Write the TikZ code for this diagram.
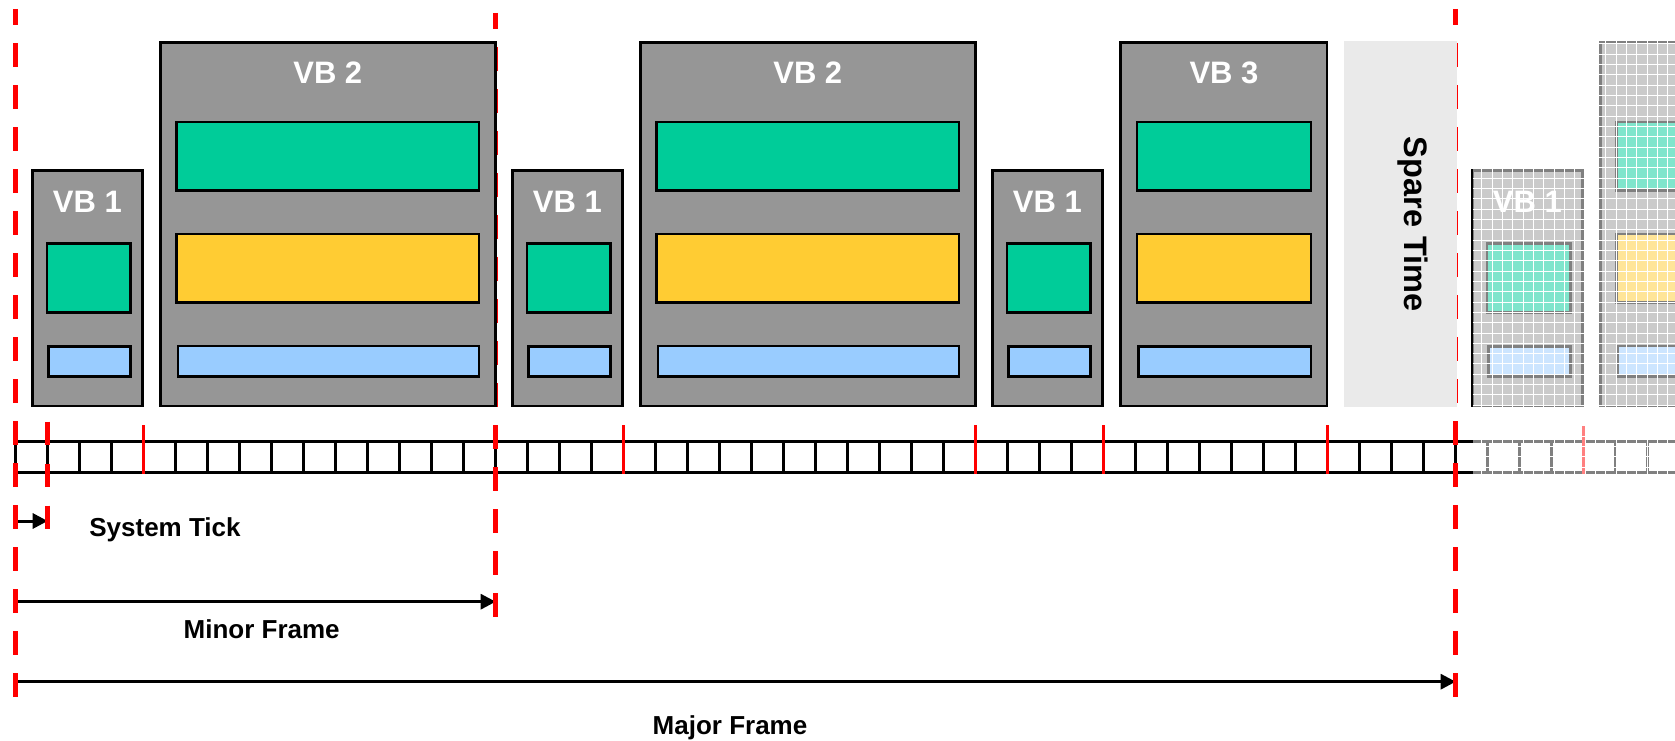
\documentclass[tikz,border=0pt]{standalone}
\usepackage{fontspec}
\setmainfont{Liberation Sans}
\usetikzlibrary{arrows.meta}
\definecolor{vbgray}{HTML}{969696}
\definecolor{slotgreen}{HTML}{00CC99}
\definecolor{slotyellow}{HTML}{FFCC33}
\definecolor{slotblue}{HTML}{99CCFF}
\definecolor{sparegray}{HTML}{EAEAEA}
\definecolor{tickred}{HTML}{FF0000}

% one minor frame slot group: VB 1 followed by VB 2
\newcommand{\vbonebox}[1]{%
  \draw[vbbox] (32.3,170.3) rectangle (142.7,406);
  \draw[slot,fill=slotgreen] (47,243.6) rectangle (130.4,312.4);
  \draw[slot,fill=slotblue] (48.3,346.3) rectangle (130.7,376.4);
  \node[vblabel] (vbone#1) at (87.4,212.3) {VB 1};
}
\newcommand{\vbtwoshape}{%
  \draw[vbbox] (160.3,42.3) rectangle (495.4,406);
  \draw[slot,fill=slotgreen] (176.3,122) rectangle (479,190.7);
  \draw[slot,fill=slotyellow] (176.3,234) rectangle (479,302.7);
  \draw[slot,fill=slotblue] (178,346) rectangle (479,376.7);
}
\newcommand{\vbtwobox}[1]{%
  \vbtwoshape
  \node[vblabel] (vbtwo#1) at (327.8,83.3) {VB 2};
}

\begin{document}
\begin{tikzpicture}[x=1pt,y=-1pt,
  vbbox/.style={draw=black,line width=2.5pt,fill=vbgray},
  slot/.style={draw=black,line width=2.5pt},
  vblabel/.style={text=white,anchor=base,inner sep=0pt,
    font=\fontsize{31}{36}\selectfont\bfseries},
  dimlabel/.style={text=black,anchor=base,inner sep=0pt,
    font=\fontsize{26}{30}\selectfont\bfseries},
  barline/.style={draw=black,line width=3.4pt},
  redtick/.style={draw=tickred,line width=3.4pt},
  framemark/.style={draw=tickred,line width=5pt,
    dash pattern=on 23.3pt off 18.7pt},
  dimarrow/.style={draw=black,line width=3pt,
    -{Triangle[length=15pt,width=15pt]}}]

\useasboundingbox (0,0) rectangle (1675,741);
\fill[white] (0,0) rectangle (1675,741);

% system tick bar
\draw[barline] (14,441.7) -- (1675,441.7);
\draw[barline] (14,472.3) -- (1675,472.3);
\foreach \i in {0,...,52}
  \draw[barline] ({15.7+32*\i},441.7) -- ({15.7+32*\i},472.3);
\foreach \i in {4,19,30,34,41,49}
  \draw[redtick] ({15.7+32*\i},425) -- ({15.7+32*\i},474);

% dimension arrows
\coordinate (tickA) at (15.7,521);
\coordinate (tickB) at (47.7,521);
\coordinate (minorA) at (15.7,601.7);
\coordinate (minorB) at (495.7,601.7);
\coordinate (majorA) at (15.7,681.7);
\coordinate (majorB) at (1455.7,681.7);
\draw[dimarrow] (tickA) -- (tickB);
\draw[dimarrow] (minorA) -- (minorB);
\draw[dimarrow] (majorA) -- (majorB);

% frame boundaries
\coordinate (startTop) at (15.7,9);
\coordinate (startBot) at (15.7,697);
\coordinate (tickTop) at (47.7,421.7);
\coordinate (tickBot) at (47.7,529);
\coordinate (minorTop) at (495.7,13);
\coordinate (minorBot) at (495.7,617);
\coordinate (majorTop) at (1455.7,9);
\coordinate (majorBot) at (1455.7,697);
\draw[framemark,dash phase=7.7pt] (startTop) -- (startBot);
\draw[framemark] (tickTop) -- (tickBot);
\draw[framemark,dash phase=7.7pt] (minorTop) -- (minorBot);
\draw[framemark,dash phase=7.7pt] (majorTop) -- (majorBot);

% minor frames
\vbonebox{a}
\vbtwobox{a}
\begin{scope}[xshift=480pt]
  \vbonebox{b}
  \vbtwobox{b}
\end{scope}
\begin{scope}[xshift=960pt]
  \vbonebox{c}
  \draw[vbbox] (160.6,42.3) rectangle (367,406);
  \draw[slot,fill=slotgreen] (177,122) rectangle (351,190.7);
  \draw[slot,fill=slotyellow] (177,234) rectangle (351,302.7);
  \draw[slot,fill=slotblue] (178.3,346.3) rectangle (351,376.4);
  \node[vblabel] (vbthree) at (264,84) {VB 3};
\end{scope}
\fill[sparegray] (1344.3,41) rectangle (1456.7,407.3);
\node[rotate=-90,anchor=base,inner sep=0pt,text=black,
  font=\fontsize{32.5}{38}\selectfont\bfseries] (spare) at (1404,224.2) {Spare Time};

% next major frame (faded)
\begin{scope}[xshift=1440pt]
  \vbonebox{d}
  \vbtwoshape
\end{scope}
\begin{scope}
  \clip (1472.5,0) rectangle (1675,741);
  \fill[white,opacity=0.5] (1472.5,0) rectangle (1675,741);
  \foreach \gx in {0,...,19}
    \draw[white,line width=0.9pt] ({1481.7+10.33*\gx},0) -- ({1481.7+10.33*\gx},741);
  \foreach \gy in {0,...,71}
    \draw[white,line width=0.9pt] (1472.5,{2.39+10.33*\gy}) -- (1675,{2.39+10.33*\gy});
\end{scope}

% labels
\node[dimlabel] (ticklabel) at (165,536.7) {System Tick};
\node[dimlabel] (minorlabel) at (261.7,638.3) {Minor Frame};
\node[dimlabel] (majorlabel) at (730,734.3) {Major Frame};
\end{tikzpicture}
\end{document}
